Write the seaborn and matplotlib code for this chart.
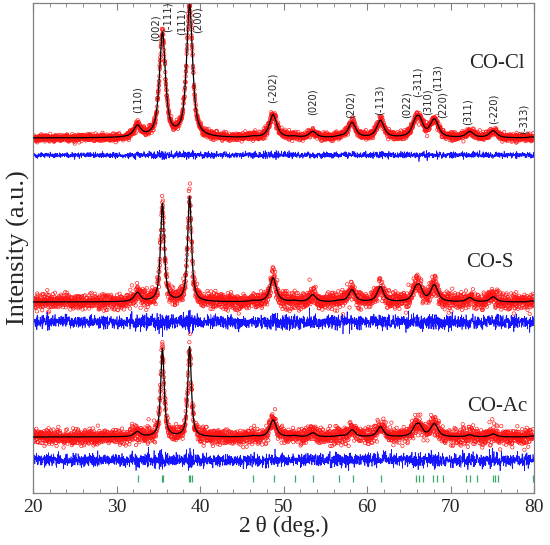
import numpy as np
import pandas as pd
import matplotlib
matplotlib.use("Agg")
import matplotlib.pyplot as plt
import seaborn as sns

# ---------------- data ----------------
samples = ["CO-Cl", "CO-S", "CO-Ac"]
peak_pos = [32.5, 35.5, 38.75, 46.3, 48.75, 51.3, 53.5, 56.7, 58.2, 61.6,
            65.8, 66.3, 67.9, 68.2, 72.3, 75.1, 79.8]
heights_cl = [11, 104, 132, 1, 23, 1, 6, 1, 15, 17, 12, 14, 9, 10, 6, 7, 1]
heights_s = [9, 98, 105, 1, 24, 1, 7, 1, 12, 15, 10, 12, 9, 9, 4, 5, 1]
heights_ac = [5, 88, 90, 1, 17, 1, 4, 1, 7, 10, 8, 9, 7, 7, 2, 3, 1]
fwhm_main = [0.85, 0.55, 0.5]     # width of the two strong reflections
fwhm_other = [1.05, 0.9, 0.9]     # width of the weaker reflections
baselines = [354, 190, 55]        # calculated-profile background level
diff_offsets = [337, 170, 32]     # level of the difference curves
obs_noise = [1.7, 3.6, 3.6]
diff_noise = [1.3, 3.0, 3.0]
label_xy = [(75.6, 429), (74.7, 230), (75.6, 86)]

bragg_ticks = [32.53, 35.45, 35.6, 38.7, 38.85, 39.0, 46.36, 48.89, 51.33,
               53.55, 56.7, 58.26, 61.63, 65.83, 66.25, 66.67, 67.93, 68.35,
               69.07, 71.84, 72.35, 73.2, 75.08, 75.37, 75.63, 79.83]
bragg_y = (10, 17)

hkl_text = ["(110)", "(002)", "(-111)", "(111)", "(200)", "(-202)", "(020)",
            "(202)", "(-113)", "(022)", "(-311)", "(310)", "(113)", "(220)",
            "(311)", "(-220)", "(-313)"]
hkl_x = [32.57, 34.73, 36.17, 37.84, 39.76, 48.74, 53.53, 58.08, 61.56,
         64.8, 66.1, 67.3, 68.4, 69.0, 72.1, 75.1, 78.8]
hkl_y = [392, 464, 475, 470, 472, 404, 390, 387, 392, 387, 410, 390, 414,
         387, 380, 383, 373]

x_start, x_stop, x_step = 20.0, 80.0, 0.02

# ---------------- build profiles ----------------
two_theta = np.arange(x_start, x_stop + x_step / 2, x_step)
rng = np.random.default_rng(7)
main_idx = {1, 2}

frames_obs, frames_calc, frames_diff = [], [], []
for i, name in enumerate(samples):
    hts = [heights_cl, heights_s, heights_ac][i]
    peaks = np.zeros_like(two_theta)
    for j, (p, h) in enumerate(zip(peak_pos, hts)):
        w = fwhm_main[i] if j in main_idx else fwhm_other[i]
        g = w / 2
        lor = 1 / (1 + ((two_theta - p) / g) ** 2)
        gau = np.exp(-np.log(2) * ((two_theta - p) / g) ** 2)
        peaks += h * (0.8 * lor + 0.2 * gau)
    calc = baselines[i] + peaks
    z = rng.normal(0, 1, two_theta.size)
    obs = calc + z * obs_noise[i] * (1 + 0.1 * np.sqrt(peaks))
    diff = diff_offsets[i] + z * diff_noise[i] * (1 + 0.08 * np.sqrt(peaks))
    frames_obs.append(pd.DataFrame({"tt": two_theta, "y": obs, "s": name}))
    frames_calc.append(pd.DataFrame({"tt": two_theta, "y": calc, "s": name}))
    frames_diff.append(pd.DataFrame({"tt": two_theta, "y": diff, "s": name}))

# ---------------- drawing ----------------
sns.set_theme(style="ticks")
plt.rcParams["font.family"] = ["Liberation Serif", "DejaVu Serif"]
plt.rcParams["axes.edgecolor"] = "#808080"

fig = plt.figure(figsize=(5.5, 5.45), dpi=100)
ax = fig.add_axes([0.06, 0.0954, 0.911, 0.899])

for i, name in enumerate(samples):
    sns.scatterplot(data=frames_obs[i], x="tt", y="y", ax=ax, marker="o",
                    s=6, facecolors="none", edgecolor="#ff1414",
                    linewidth=0.45, legend=False, zorder=2)
    sns.lineplot(data=frames_calc[i], x="tt", y="y", ax=ax, color="black",
                 linewidth=0.9, estimator=None, sort=False, zorder=3)
    sns.lineplot(data=frames_diff[i], x="tt", y="y", ax=ax, color="#1414ff",
                 linewidth=0.5, estimator=None, sort=False, zorder=2)
    ax.text(label_xy[i][0], label_xy[i][1], name, fontsize=15,
            ha="center", va="center")

ax.vlines(bragg_ticks, bragg_y[0], bragg_y[1], color="#3aaa6a", linewidth=0.9)

for t, x, y in zip(hkl_text, hkl_x, hkl_y):
    ax.text(x, y, t, rotation=90, ha="center", va="center", fontsize=7.2,
            family=["DejaVu Sans"])

ax.set_xlim(20, 80)
ax.set_ylim(-1, 489)
ax.set_xticks(np.arange(20, 81, 10))
ax.set_xticks(np.arange(20, 81, 2), minor=True)
ax.set_yticks([])
ax.tick_params(axis="x", which="both", direction="in", top=True,
               labelsize=14, color="#808080", pad=4)
ax.tick_params(axis="x", which="major", length=5, width=0.8)
ax.tick_params(axis="x", which="minor", length=3, width=0.6)
for sp in ax.spines.values():
    sp.set_linewidth(0.9)
    sp.set_visible(True)
ax.set_xlabel("2\u2009\u03b8 (deg.)", fontsize=17, labelpad=0)
ax.set_ylabel("Intensity (a.u.)", fontsize=19, labelpad=2)

fig.savefig("out.png", dpi=100)
